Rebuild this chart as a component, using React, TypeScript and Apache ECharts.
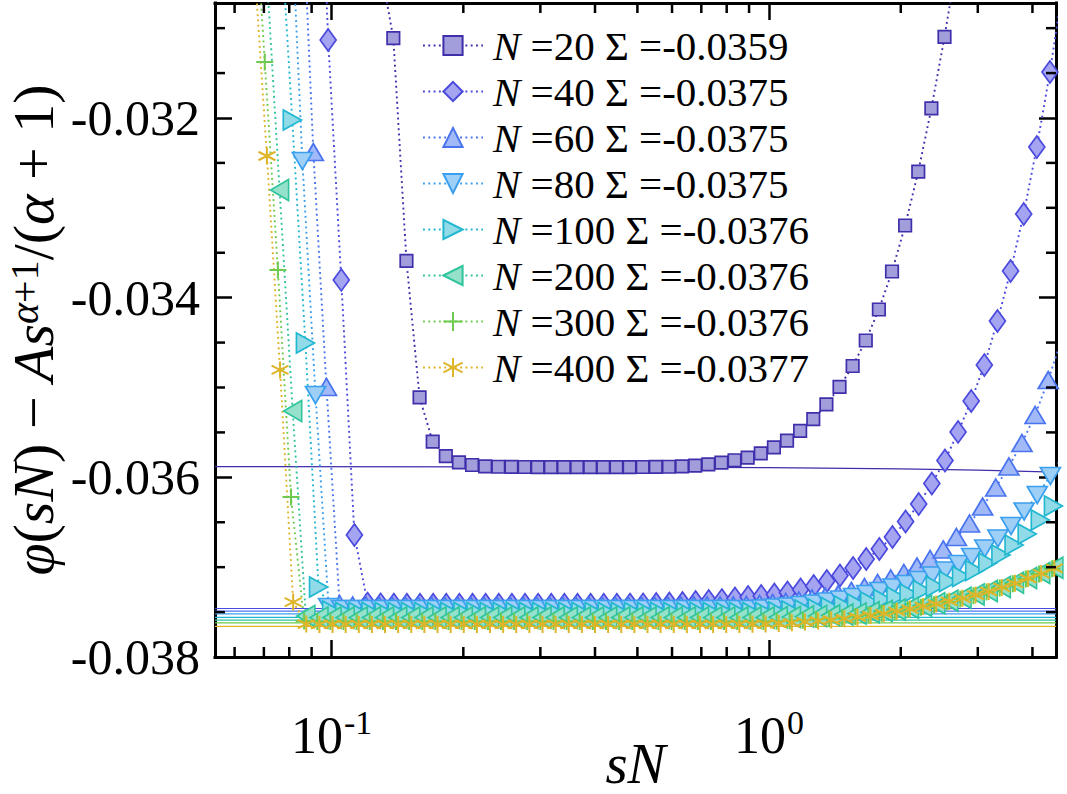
import React, { useEffect, useRef } from "react";
import * as echarts from "echarts";

// Shared s grid (log-spaced, 0.03 decades per step); each curve is plotted against sN.
const S_GRID = [
  1.6596e-4, 1.7783e-4, 1.9055e-4, 2.0417e-4, 2.1878e-4, 2.3442e-4, 2.5119e-4, 2.6915e-4, 2.884e-4, 3.0903e-4,
  3.3113e-4, 3.5481e-4, 3.8019e-4, 4.0738e-4, 4.3652e-4, 4.6774e-4, 5.0119e-4, 5.3703e-4, 5.7544e-4, 6.166e-4,
  6.6069e-4, 7.0795e-4, 7.5858e-4, 8.1283e-4, 8.7096e-4, 9.3325e-4, 1.0e-3, 1.0715e-3, 1.1482e-3, 1.2303e-3,
  1.3183e-3, 1.4125e-3, 1.5136e-3, 1.6218e-3, 1.7378e-3, 1.8621e-3, 1.9953e-3, 2.138e-3, 2.2909e-3, 2.4547e-3,
  2.6303e-3, 2.8184e-3, 3.02e-3, 3.2359e-3, 3.4674e-3, 3.7154e-3, 3.9811e-3, 4.2658e-3, 4.5709e-3, 4.8978e-3,
  5.2481e-3, 5.6234e-3, 6.0256e-3, 6.4565e-3, 6.9183e-3, 7.4131e-3, 7.9433e-3, 8.5114e-3, 9.1201e-3, 9.7724e-3,
  1.0471e-2, 1.122e-2, 1.2023e-2, 1.2882e-2, 1.3804e-2, 1.4791e-2, 1.5849e-2, 1.6982e-2, 1.8197e-2, 1.9498e-2,
  2.0893e-2, 2.2387e-2, 2.3988e-2, 2.5704e-2, 2.7542e-2, 2.9512e-2, 3.1623e-2, 3.3884e-2, 3.6308e-2, 3.8905e-2,
  4.1687e-2, 4.4668e-2, 4.7863e-2, 5.1286e-2, 5.4954e-2, 5.8884e-2, 6.3096e-2, 6.7608e-2, 7.2444e-2, 7.7625e-2,
  8.3176e-2, 8.9125e-2, 9.5499e-2, 0.10233, 0.10965, 0.11749, 0.12589, 0.1349,
];

const SYSTEM_SIZES = [20, 40, 60, 80, 100, 200, 300, 400];
// Plateau value Sigma of each curve
const SIGMA = [-0.03588, -0.03746, -0.03749, -0.03752, -0.03756, -0.03759, -0.03762, -0.03766];
// Index of the first S_GRID point used by each curve
const GRID_START = [53, 38, 31, 26, 22, 11, 4, 0];

const PHI_N20 = [
  -0.0303, -0.03111, -0.03359, -0.03511, -0.035603, -0.035763, -0.035833, -0.035863, -0.035878, -0.035882,
  -0.035884, -0.035885, -0.035886, -0.035886, -0.035886, -0.035886, -0.035886, -0.035886, -0.035886, -0.035886,
  -0.035885, -0.035884, -0.035882, -0.035878, -0.03587, -0.035855, -0.035837, -0.03581, -0.035781, -0.035733,
  -0.035666, -0.035592, -0.035484, -0.035351, -0.035189, -0.034994, -0.034761, -0.034477, -0.034132, -0.033709,
  -0.033197, -0.032596, -0.031894, -0.031098, -0.03022,
];

const PHI_N40 = [
  -0.02735, -0.031132, -0.033803, -0.036642, -0.037405, -0.037414, -0.037416, -0.037418, -0.037418, -0.037418,
  -0.037418, -0.037418, -0.037418, -0.037418, -0.037418, -0.037418, -0.037418, -0.037418, -0.037418, -0.037418,
  -0.037418, -0.037418, -0.037418, -0.037418, -0.037416, -0.037414, -0.03741, -0.037404, -0.037399, -0.037388,
  -0.037377, -0.037366, -0.037349, -0.037332, -0.037321, -0.037304, -0.037282, -0.037249, -0.03721, -0.037154,
  -0.037093, -0.037009, -0.036909, -0.036798, -0.036664, -0.036492, -0.036297, -0.036069, -0.035813, -0.035495,
  -0.03515, -0.03475, -0.03426, -0.033703, -0.033069, -0.032323, -0.031488, -0.03052,
];

const PHI_N60 = [
  -0.029, -0.032379, -0.034994, -0.03741, -0.037427, -0.037427, -0.037427, -0.037427, -0.037427, -0.037427,
  -0.037427, -0.037427, -0.037427, -0.037427, -0.037427, -0.037427, -0.037427, -0.037427, -0.037427, -0.037427,
  -0.037427, -0.037427, -0.037427, -0.037427, -0.037427, -0.037427, -0.037427, -0.037427, -0.037427, -0.037427,
  -0.037427, -0.037427, -0.037427, -0.037427, -0.037421, -0.03741, -0.037399, -0.037388, -0.037371, -0.037349,
  -0.037327, -0.037299, -0.037265, -0.037221, -0.037176, -0.037126, -0.037065, -0.036993, -0.036909, -0.036803,
  -0.036664, -0.036514, -0.036325, -0.036113, -0.035879, -0.035618, -0.035306, -0.034917, -0.034471,
];

const PHI_N80 = [
  -0.0292, -0.032479, -0.035084, -0.037443, -0.037466, -0.037466, -0.037466, -0.037466, -0.037466, -0.037466,
  -0.037466, -0.037466, -0.037466, -0.037466, -0.037466, -0.037466, -0.037466, -0.037466, -0.037466, -0.037466,
  -0.037466, -0.037466, -0.037466, -0.037466, -0.037466, -0.037466, -0.037466, -0.037466, -0.037466, -0.037466,
  -0.037466, -0.037466, -0.037466, -0.037466, -0.037466, -0.037466, -0.03746, -0.037449, -0.037438, -0.037421,
  -0.037404, -0.037382, -0.03736, -0.037332, -0.037299, -0.037265, -0.037226, -0.037187, -0.037143, -0.037093,
  -0.037037, -0.036965, -0.036887, -0.036792, -0.036681, -0.036542, -0.03638, -0.036197, -0.035985, -0.035751,
];

const PHI_N100 = [
  -0.0296, -0.032022, -0.034505, -0.037221, -0.037488, -0.037505, -0.037505, -0.037505, -0.037505, -0.037505,
  -0.037505, -0.037505, -0.037505, -0.037505, -0.037505, -0.037505, -0.037505, -0.037505, -0.037505, -0.037505,
  -0.037505, -0.037505, -0.037505, -0.037505, -0.037505, -0.037505, -0.037505, -0.037505, -0.037505, -0.037505,
  -0.037505, -0.037505, -0.037505, -0.037505, -0.037505, -0.037505, -0.037505, -0.037505, -0.037499, -0.037488,
  -0.037477, -0.037466, -0.037449, -0.037432, -0.03741, -0.037388, -0.03736, -0.037332, -0.037299, -0.03726,
  -0.037215, -0.03716, -0.037104, -0.037037, -0.036954, -0.036865, -0.036753, -0.036631, -0.036475, -0.036319,
  -0.036141,
];

const PHI_N200 = [
  -0.030341, -0.032801, -0.035262, -0.037544, -0.03756, -0.03756, -0.03756, -0.03756, -0.03756, -0.03756,
  -0.03756, -0.03756, -0.03756, -0.03756, -0.03756, -0.03756, -0.03756, -0.03756, -0.03756, -0.03756,
  -0.03756, -0.03756, -0.03756, -0.03756, -0.03756, -0.03756, -0.03756, -0.03756, -0.03756, -0.03756,
  -0.03756, -0.03756, -0.03756, -0.03756, -0.03756, -0.03756, -0.03756, -0.03756, -0.03756, -0.037558,
  -0.037555, -0.037549, -0.037544, -0.037536, -0.037527, -0.037516, -0.037502, -0.037488, -0.037471, -0.037451,
  -0.037429, -0.037402, -0.037373, -0.03734, -0.037304, -0.037265, -0.037221, -0.037173, -0.037121, -0.037065,
  -0.037006, -0.036942,
];

const PHI_N300 = [
  -0.029017, -0.031377, -0.033692, -0.036219, -0.037599, -0.037605, -0.037605, -0.037605, -0.037605, -0.037605,
  -0.037605, -0.037605, -0.037605, -0.037605, -0.037605, -0.037605, -0.037605, -0.037605, -0.037605, -0.037605,
  -0.037605, -0.037605, -0.037605, -0.037605, -0.037605, -0.037605, -0.037605, -0.037605, -0.037605, -0.037605,
  -0.037605, -0.037605, -0.037605, -0.037605, -0.037605, -0.037605, -0.037605, -0.037605, -0.037605, -0.037605,
  -0.037601, -0.037596, -0.03759, -0.037583, -0.037574, -0.037563, -0.037549, -0.037532, -0.037514, -0.037494,
  -0.037471, -0.037447, -0.037419, -0.037388, -0.037354, -0.037317, -0.037276, -0.037232, -0.037184, -0.037132,
  -0.037076, -0.037017, -0.036954,
];

const PHI_N400 = [
  -0.030197, -0.032423, -0.034805, -0.037388, -0.037633, -0.037638, -0.037638, -0.037638, -0.037638, -0.037638,
  -0.037638, -0.037638, -0.037638, -0.037638, -0.037638, -0.037638, -0.037638, -0.037638, -0.037638, -0.037638,
  -0.037638, -0.037638, -0.037638, -0.037638, -0.037638, -0.037638, -0.037638, -0.037638, -0.037638, -0.037638,
  -0.037638, -0.037638, -0.037638, -0.037638, -0.037638, -0.037638, -0.037638, -0.037638, -0.037636, -0.037633,
  -0.037627, -0.037619, -0.03761, -0.037599, -0.037588, -0.037574, -0.037557, -0.037538, -0.037516, -0.037491,
  -0.037466, -0.037438, -0.03741, -0.03738, -0.037347, -0.03731, -0.037271, -0.037226, -0.03718, -0.037126,
  -0.037071, -0.037013, -0.036954,
];

const PHI = [PHI_N20, PHI_N40, PHI_N60, PHI_N80, PHI_N100, PHI_N200, PHI_N300, PHI_N400];

// Slow drift of the N = 20 plateau line across the range (starts at SIGMA[0])
const SIGMA_N20_DRIFT_X = [0.5, 1, 2, 3, 4.528];
const SIGMA_N20_DRIFT_Y = [-0.035886, -0.035893, -0.035906, -0.03592, -0.035941];

const X_RANGE = [0.05412, 4.528];
const Y_RANGE = [-0.038, -0.03072];
const Y_MAJOR_STEP = 0.002;
const X_MINOR_TICKS = [0.06, 0.07, 0.08, 0.09, 0.2, 0.3, 0.4, 0.5, 0.6, 0.7, 0.8, 0.9, 2, 3, 4];
const Y_MINOR_TICKS = [
  -0.0375, -0.037, -0.0365, -0.0355, -0.035, -0.0345, -0.0335, -0.033, -0.0325, -0.0315, -0.031,
];

const EDGE = ["#3f2fab", "#4a49de", "#4a74ef", "#3b9fee", "#22b7d1", "#2fc49c", "#6ecb4f", "#deb429"];
const FILL = ["#a29ddb", "#a5a4f1", "#a2b9f7", "#9dcff7", "#90dbe7", "#96e1cb", "#6ecb4f", "#deb429"];

const FONT = '"Liberation Serif", "DejaVu Serif", serif';

const PLUS_PATH = "path://M0,-10L0,10M-10,0L10,0";
const ASTERISK_PATH = "path://M0,-10L0,10M-8.66,-5L8.66,5M-8.66,5L8.66,-5";

type Marker = { symbol: string; size: number | number[]; rotate?: number; open?: boolean };
const MARKERS: Marker[] = [
  { symbol: "rect", size: 12.5 },
  { symbol: "diamond", size: [16, 22] },
  { symbol: "triangle", size: [20, 17] },
  { symbol: "triangle", size: [20, 17], rotate: 180 },
  { symbol: "triangle", size: [20, 18], rotate: -90 },
  { symbol: "triangle", size: [21, 18], rotate: 90 },
  { symbol: PLUS_PATH, size: 17, open: true },
  { symbol: ASTERISK_PATH, size: 17, open: true },
];

const seriesName = (n: number) => `N=${n}`;

function buildOption(): any {
  const dataSeries = SYSTEM_SIZES.map((n, k) => ({
    name: seriesName(n),
    type: "line",
    data: PHI[k].map((v, i) => [S_GRID[GRID_START[k] + i] * n, v]),
    symbol: MARKERS[k].symbol,
    symbolSize: MARKERS[k].size,
    symbolRotate: MARKERS[k].rotate || 0,
    showSymbol: true,
    lineStyle: { color: EDGE[k], width: 1.9, type: [1.9, 3.4] },
    itemStyle: {
      color: MARKERS[k].open ? "rgba(0,0,0,0)" : FILL[k],
      borderColor: EDGE[k],
      borderWidth: MARKERS[k].open ? 2 : 1.7,
    },
    z: 3,
    silent: true,
    emphasis: { disabled: true },
  }));

  const sigmaSeries = SYSTEM_SIZES.map((n, k) => ({
    name: `Sigma ${seriesName(n)}`,
    type: "line",
    data:
      k === 0
        ? [[X_RANGE[0], SIGMA[0]], ...SIGMA_N20_DRIFT_X.map((x, i) => [x, SIGMA_N20_DRIFT_Y[i]])]
        : [
            [X_RANGE[0], SIGMA[k]],
            [X_RANGE[1], SIGMA[k]],
          ],
    symbol: "none",
    lineStyle: { color: EDGE[k], width: 1.2 },
    z: 2,
    silent: true,
    emphasis: { disabled: true },
  }));

  const tickStyle = { stroke: "#000", lineWidth: 2.5 };
  const xMinor = {
    type: "custom",
    name: "x minor ticks",
    silent: true,
    clip: false,
    z: 5,
    data: X_MINOR_TICKS.map((v) => [v, Y_RANGE[0]]),
    encode: { x: 0, y: 1 },
    renderItem: (_p: any, api: any) => {
      const x = api.value(0);
      const b = api.coord([x, Y_RANGE[0]]);
      const t = api.coord([x, Y_RANGE[1]]);
      return {
        type: "group",
        children: [
          { type: "line", shape: { x1: b[0], y1: b[1], x2: b[0], y2: b[1] - 10 }, style: tickStyle },
          { type: "line", shape: { x1: t[0], y1: t[1], x2: t[0], y2: t[1] + 10 }, style: tickStyle },
        ],
      };
    },
  };
  const yMinor = {
    type: "custom",
    name: "y minor ticks",
    silent: true,
    clip: false,
    z: 5,
    data: Y_MINOR_TICKS.map((v) => [X_RANGE[0], v]),
    encode: { x: 0, y: 1 },
    renderItem: (_p: any, api: any) => {
      const y = api.value(1);
      const l = api.coord([X_RANGE[0], y]);
      const r = api.coord([X_RANGE[1], y]);
      return {
        type: "group",
        children: [
          { type: "line", shape: { x1: l[0], y1: l[1], x2: l[0] + 10, y2: l[1] }, style: tickStyle },
          { type: "line", shape: { x1: r[0], y1: r[1], x2: r[0] - 10, y2: r[1] }, style: tickStyle },
        ],
      };
    },
  };

  const axisLine = { show: true, onZero: false, lineStyle: { color: "#000", width: 3, cap: "square" } };
  const majorTick = { show: true, inside: true, length: 17, lineStyle: { color: "#000", width: 2.5 } };

  // Decade labels as 10 with a raised exponent
  const xLabel = (v: number) => {
    const e = Math.log10(v);
    const r = Math.round(e);
    return Math.abs(e - r) < 1e-6 ? `10{pow|${r}}` : "";
  };
  const yLabel = (v: number) => {
    const q = v / Y_MAJOR_STEP;
    return Math.abs(q - Math.round(q)) < 1e-6 ? v.toFixed(3) : "";
  };

  const xCommon = {
    type: "log",
    logBase: 10,
    min: X_RANGE[0],
    max: X_RANGE[1],
    axisLine,
    axisTick: majorTick,
    minorTick: { show: false },
    splitLine: { show: false },
    minorSplitLine: { show: false },
  };
  const yCommon = {
    type: "value",
    min: Y_RANGE[0],
    max: Y_RANGE[1],
    interval: Y_MAJOR_STEP,
    axisLine,
    axisTick: majorTick,
    minorTick: { show: false },
    splitLine: { show: false },
  };

  const legendRow = { fontFamily: FONT, fontSize: 41, lineHeight: 24, color: "#000" };

  return {
    animation: false,
    backgroundColor: "#fff",
    grid: { left: 215, right: 11, top: 3, bottom: 137, containLabel: false, outerBoundsMode: "none" },
    legend: {
      data: SYSTEM_SIZES.map(seriesName),
      orient: "vertical",
      left: 422,
      top: 25,
      padding: 0,
      itemWidth: 60,
      itemHeight: 24,
      itemGap: 5,
      selectedMode: false,
      formatter: (name: string) => {
        const k = SYSTEM_SIZES.map(seriesName).indexOf(name);
        return `{i|N}{r| =${SYSTEM_SIZES[k]} \u03A3 =${SIGMA[k].toFixed(4)}}`;
      },
      textStyle: {
        ...legendRow,
        padding: [0, 0, 0, 5],
        rich: {
          i: { ...legendRow, fontStyle: "italic" },
          r: { ...legendRow },
        },
      },
    },
    xAxis: [
      {
        ...xCommon,
        position: "bottom",
        axisLabel: {
          show: true,
          margin: 52,
          fontFamily: FONT,
          fontSize: 52,
          lineHeight: 52,
          color: "#000",
          formatter: xLabel,
          rich: {
            pow: {
              fontFamily: FONT,
              fontSize: 34,
              lineHeight: 34,
              color: "#000",
              verticalAlign: "bottom",
              padding: [0, 0, 22, 1],
            },
          },
        },
        name: "sN",
        nameLocation: "middle",
        nameGap: 84,
        nameMoveOverlap: false,
        nameTextStyle: { fontFamily: FONT, fontStyle: "italic", fontSize: 57, lineHeight: 44, color: "#000" },
      },
      { ...xCommon, position: "top", axisLabel: { show: false } },
    ],
    yAxis: [
      {
        ...yCommon,
        position: "left",
        axisLabel: { show: true, margin: 15, formatter: yLabel, fontFamily: FONT, fontSize: 50, color: "#000" },
        name: "{it|\u03C6}{rm|(}{it|sN}{rm|) \u2212 }{it|As}{sit|\u03B1}{srm|+1}{rm|/(}{it|\u03B1}{rm| + 1)}",
        nameLocation: "middle",
        nameRotate: 90,
        nameGap: 153,
        nameMoveOverlap: false,
        nameTextStyle: {
          fontFamily: FONT,
          fontSize: 58,
          color: "#000",
          rich: {
            it: { fontFamily: FONT, fontStyle: "italic", fontSize: 58, lineHeight: 58, color: "#000" },
            rm: { fontFamily: FONT, fontSize: 58, lineHeight: 58, color: "#000" },
            sit: { fontFamily: FONT, fontStyle: "italic", fontSize: 40, lineHeight: 38, verticalAlign: "top", color: "#000" },
            srm: { fontFamily: FONT, fontSize: 40, lineHeight: 38, verticalAlign: "top", color: "#000" },
          },
        },
      },
      { ...yCommon, position: "right", axisLabel: { show: false } },
    ],
    series: [...sigmaSeries, ...dataSeries, xMinor, yMinor],
  };
}

export default function App() {
  const ref = useRef<HTMLDivElement>(null);
  useEffect(() => {
    if (!ref.current) return;
    const chart = echarts.init(ref.current, null, { renderer: "svg" });
    chart.setOption(buildOption());
    return () => chart.dispose();
  }, []);
  return (
    <div
      ref={ref}
      style={{ position: "fixed", left: 0, top: 0, width: 1067, height: 794, background: "#fff" }}
    />
  );
}
